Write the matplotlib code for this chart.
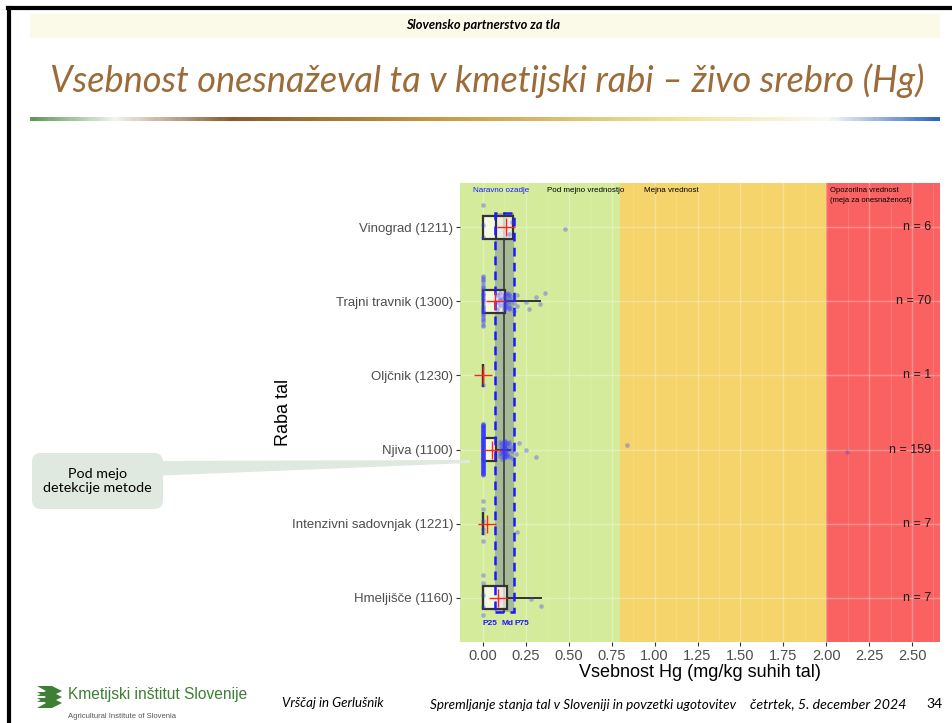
import numpy as np
import matplotlib.pyplot as plt
from matplotlib.patches import Rectangle, FancyBboxPatch, Polygon
from matplotlib.colors import LinearSegmentedColormap

# categories (top to bottom) and sample sizes
categories = ["Vinograd (1211)", "Trajni travnik (1300)", "Oljčnik (1230)",
              "Njiva (1100)", "Intenzivni sadovnjak (1221)", "Hmeljišče (1160)"]
n_counts = [6, 70, 1, 159, 7, 7]

# box statistics (mg/kg)
q1 = [0.0, 0.0, 0.0, 0.0, 0.0, 0.0]
median = [0.074, 0.0, 0.0, 0.0, 0.0, 0.0]
q3 = [0.173, 0.128, 0.0, 0.074, 0.0, 0.142]
whisk_lo = [0.0, 0.0, 0.0, 0.0, 0.0, 0.0]
whisk_hi = [0.173, 0.33, 0.0, 0.16, 0.0, 0.34]
means = [0.134, 0.072, 0.0, 0.052, 0.025, 0.086]

# single observations: distinct values and how many times they occur
vin_vals = [0.0, 0.15, 0.17, 0.48]
vin_cnt = [3, 1, 1, 1]
trav_vals = [0.0, 0.08, 0.10, 0.12, 0.13, 0.14, 0.15, 0.16, 0.18, 0.20, 0.25, 0.27, 0.31, 0.33, 0.36]
trav_cnt = [30, 3, 4, 5, 6, 5, 4, 3, 3, 2, 1, 1, 1, 1, 1]
olj_vals = [0.0]
olj_cnt = [1]
njiva_vals = [0.0, 0.10, 0.11, 0.12, 0.13, 0.14, 0.15, 0.17, 0.19, 0.21, 0.25, 0.31, 0.84, 2.12]
njiva_cnt = [110, 5, 6, 10, 8, 6, 4, 3, 1, 1, 1, 1, 1, 1]
sad_vals = [0.0, 0.20]
sad_cnt = [6, 1]
hmelj_vals = [0.0, 0.28, 0.34]
hmelj_cnt = [5, 1, 1]

point_vals = [vin_vals, trav_vals, olj_vals, njiva_vals, sad_vals, hmelj_vals]
point_cnts = [vin_cnt, trav_cnt, olj_cnt, njiva_cnt, sad_cnt, hmelj_cnt]

# natural background percentiles and limit values
bg_p25, bg_md, bg_p75 = 0.07, 0.12, 0.18
limit_mejna = 0.8
limit_opozorilna = 2.0

x_ticks = [0.0, 0.25, 0.5, 0.75, 1.0, 1.25, 1.5, 1.75, 2.0, 2.25, 2.5]

W, H = 952, 723
fig = plt.figure(figsize=(W / 100, H / 100), dpi=100)
fig.patch.set_facecolor("white")

# ---- chart ----
ax = fig.add_axes([460 / W, (H - 642) / H, 480 / W, 459 / H])
ypos = np.arange(len(categories), 0, -1)
xlo, xhi = -0.134, 2.663
ax.set_xlim(xlo, xhi)
ax.set_ylim(0.4, 6.6)

ax.axvspan(xlo, limit_mejna, color="#d4eb9b", zorder=0, lw=0)
ax.axvspan(limit_mejna, limit_opozorilna, color="#f6d46c", zorder=0, lw=0)
ax.axvspan(limit_opozorilna, xhi, color="#fa6262", zorder=0, lw=0)

for xv in np.arange(0, 2.626, 0.125):
    major = abs(xv / 0.25 - round(xv / 0.25)) < 1e-6
    ax.axvline(xv, color="white", alpha=0.3 if major else 0.15, lw=1.0 if major else 0.6, zorder=1)
for yv in ypos:
    ax.axhline(yv, color="white", alpha=0.3, lw=1.0, zorder=1)

# natural background band
ytop, ybot = 6.2, 0.81
ax.add_patch(Rectangle((bg_p25, ybot), bg_p75 - bg_p25, ytop - ybot, facecolor="slategray",
                       alpha=0.45, lw=0, zorder=2))
ax.add_patch(Rectangle((bg_p25, ybot), bg_p75 - bg_p25, ytop - ybot, facecolor="none",
                       edgecolor="#1a1aff", lw=1.8, ls=(0, (3.5, 2.5)), zorder=3.5))
ax.plot([bg_md, bg_md], [ybot, ytop], color="#444444", lw=1.3, zorder=2.5)

stats = []
for i, lab in enumerate(categories):
    stats.append(dict(label=lab, q1=q1[i], med=median[i], q3=q3[i],
                      whislo=whisk_lo[i], whishi=whisk_hi[i], fliers=[]))
ax.bxp(stats, positions=ypos, widths=0.3, orientation="horizontal", patch_artist=True,
       showcaps=False, showfliers=False, manage_ticks=False,
       boxprops=dict(facecolor=(1, 1, 0.97, 0.75), edgecolor="#333333", lw=1.6),
       medianprops=dict(color="#333333", lw=1.6),
       whiskerprops=dict(color="#333333", lw=1.4), zorder=3)

# jittered observations
for i, (vals, cnts) in enumerate(zip(point_vals, point_cnts)):
    v = np.repeat(vals, cnts)
    k = np.arange(len(v))
    frac = (k * 0.6180339887 + 0.31) % 1.0 - 0.5
    amp = np.where(v == 0, 0.7, 0.25)
    ax.scatter(v, ypos[i] + frac * amp, s=11, color="#3a3aff", alpha=0.35, lw=0, zorder=4)

ax.scatter(means, ypos, marker="+", s=150, color="#ff2020", lw=1.0, zorder=5)

for i, n in enumerate(n_counts):
    ax.text(2.61, ypos[i], f"n = {n}", ha="right", va="center", fontsize=9,
            color="#1a1a1a", family="Liberation Sans", zorder=6)

ax.text(0.105, 6.5, "Naravno ozadje", color="#1a1aff", fontsize=5.8, ha="center",
        va="center", family="Liberation Sans")
ax.text(0.60, 6.5, "Pod mejno vrednostjo", color="black", fontsize=5.8, ha="center",
        va="center", family="Liberation Sans")
ax.text(1.10, 6.5, "Mejna vrednost", color="black", fontsize=5.8, ha="center",
        va="center", family="Liberation Sans")
ax.text(2.02, 6.54, "Opozorilna vrednost\n(meja za onesnaženost)", color="black",
        fontsize=5.5, ha="left", va="top", linespacing=1.6, family="Liberation Sans")
for lab, xv in zip(["P25", "Md", "P75"], [0.04, 0.144, 0.227]):
    ax.text(xv, 0.65, lab, color="#1a1aff", fontsize=6, fontweight="bold",
            ha="center", va="center", family="Liberation Sans")

ax.set_yticks(ypos)
ax.set_yticklabels(categories)
ax.set_xticks(x_ticks)
ax.set_xticklabels([f"{t:.2f}" for t in x_ticks])
ax.tick_params(axis="both", color="#333333", labelcolor="#4d4d4d", length=3, width=0.8)
ax.tick_params(axis="y", labelsize=9.5, pad=2)
ax.tick_params(axis="x", labelsize=10.5, pad=2)
for lbl in ax.get_xticklabels() + ax.get_yticklabels():
    lbl.set_family("Liberation Sans")
for sp in ax.spines.values():
    sp.set_visible(False)
ax.set_xlabel("Vsebnost Hg (mg/kg suhih tal)", fontsize=13, family="Liberation Sans",
              color="black", labelpad=1)
ax.set_ylabel("Raba tal", fontsize=13, family="Liberation Sans", color="black")
ax.yaxis.set_label_coords(-0.35, 0.5)

# ---- slide decorations ----
deco = fig.add_axes([0, 0, 1, 1], zorder=10)
deco.set_xlim(0, W)
deco.set_ylim(H, 0)
deco.axis("off")
deco.patch.set_alpha(0)

deco.plot([8, W], [8, 8], color="black", lw=3)
deco.plot([9, 9], [8, H], color="black", lw=3)

deco.add_patch(Rectangle((30, 14), 910, 24, facecolor="#fbf9e8", lw=0))
deco.text(483, 25, "Slovensko partnerstvo za tla", ha="center", va="center", fontsize=9.3,
          style="italic", fontweight="bold", family="Lato")
deco.text(487, 81, "Vsebnost onesnaževal ta v kmetijski rabi – živo srebro (Hg)", ha="center",
          va="center", fontsize=26, style="italic", color="#9c6b38", family="Lato")

grad = LinearSegmentedColormap.from_list("bar", [
    (0.0, "#5f9a55"), (0.09, "#f2f2f0"), (0.22, "#8a5a2c"), (0.45, "#c59a45"),
    (0.72, "#f3e49a"), (0.88, "#fafaf6"), (1.0, "#2f65c4")])
deco.imshow(np.linspace(0, 1, 300)[None, :], cmap=grad, aspect="auto",
            extent=(30, 940, 121, 117), zorder=2)
deco.set_xlim(0, W)
deco.set_ylim(H, 0)

# callout
deco.add_patch(Polygon([(150, 461), (470, 460), (470, 463), (150, 476)], closed=True,
                       facecolor="#dfe9df", lw=0))
deco.add_patch(FancyBboxPatch((32, 453), 131, 56, boxstyle="round,pad=0,rounding_size=9",
                              facecolor="#dfe9df", lw=0))
deco.text(97.5, 481, "Pod mejo\ndetekcije metode", ha="center", va="center", fontsize=10.3,
          family="Lato", linespacing=1.25)

# footer
for dy in [0, 6, 12]:
    deco.add_patch(Polygon([(37, 686 + dy), (52, 686 + dy), (62, 691 + dy), (52, 696 + dy),
                            (37, 696 + dy), (46, 691 + dy)], closed=True,
                           facecolor="#3d7f35", lw=0))
deco.text(68, 695, "Kmetijski inštitut Slovenije", ha="left", va="center", fontsize=11.2,
          color="#3d7f35", family=["Liberation Sans Narrow", "Liberation Sans"])
deco.text(68, 717, "Agricultural Institute of Slovenia", ha="left", va="center", fontsize=5.5,
          color="#555555", family="Liberation Sans")
deco.text(282, 703, "Vrščaj in Gerlušnik", ha="left", va="center", fontsize=9.5,
          style="italic", family="Lato")
deco.text(430, 705, "Spremljanje stanja tal v Sloveniji in povzetki ugotovitev", ha="left",
          va="center", fontsize=9.7, style="italic", family="Lato")
deco.text(750, 704, "četrtek, 5. december 2024", ha="left", va="center", fontsize=10.2,
          style="italic", family="Lato")
deco.text(926, 704, "34", ha="left", va="center", fontsize=10, family="Lato")

fig.savefig("out.png", dpi=100)
